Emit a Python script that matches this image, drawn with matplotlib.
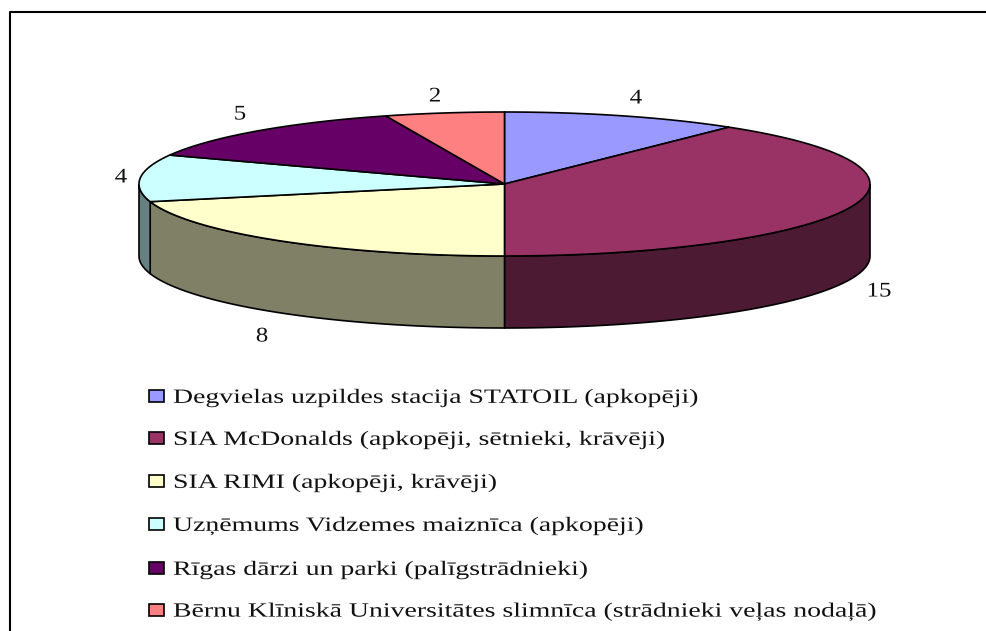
import numpy as np
import matplotlib
matplotlib.use('Agg')
import matplotlib.pyplot as plt
from matplotlib.patches import Polygon, Rectangle
from matplotlib.patheffects import AbstractPathEffect
from matplotlib.transforms import Affine2D

plt.rcParams['font.family'] = ['Liberation Serif', 'DejaVu Serif']

names = ['Degvielas uzpildes stacija STATOIL (apkopēji)',
         'SIA McDonalds (apkopēji, sētnieki, krāvēji)',
         'SIA RIMI (apkopēji, krāvēji)',
         'Uzņēmums Vidzemes maiznīca (apkopēji)',
         'Rīgas dārzi un parki (palīgstrādnieki)',
         'Bērnu Klīniskā Universitātes slimnīca (strādnieki veļas nodaļā)']
values = [4, 15, 8, 4, 5, 2]
top_colors = ['#9999FF', '#993366', '#FFFFCC', '#CCFFFF', '#660066', '#FF8080']
side_colors = ['#4D4D80', '#4D1A33', '#808066', '#668080', '#330033', '#804040']
label_pos = [(636, 99), (879, 292), (262, 337), (121, 178), (240, 115), (435, 97)]

cx, cy = 504.5, 184
rx, ry = 365.5, 72
depth = 72


# the source image is stretched sideways, text gets the same stretch
class StretchX(AbstractPathEffect):
    def __init__(self, x0, sx):
        super().__init__()
        self.x0 = x0
        self.sx = sx

    def draw_path(self, renderer, gc, tpath, affine, rgbFace=None):
        a = affine + Affine2D().translate(-self.x0, 0).scale(self.sx, 1).translate(self.x0, 0)
        renderer.draw_path(gc, tpath, a, rgbFace)


def rim(a0, a1):
    t = np.linspace(a0, a1, 200)
    return cx + rx * np.sin(t), cy - ry * np.cos(t)


fig = plt.figure(figsize=(9.87, 6.31), dpi=100)
ax = fig.add_axes([0, 0, 1, 1])
ax.set_xlim(0, 987)
ax.set_ylim(631, 0)
ax.axis('off')

# frame, only top and left are in the crop
ax.plot([9.5, 9.5, 987], [631, 12, 12], color='black', lw=1.5)

edges = np.cumsum([0] + values) / sum(values) * 2 * np.pi

# side walls of the front half
for i in range(len(values)):
    a0, a1 = edges[i], edges[i + 1]
    a0 = max(a0, np.pi / 2)
    a1 = min(a1, 3 * np.pi / 2)
    if a1 <= a0:
        continue
    x, y = rim(a0, a1)
    pts = np.column_stack([np.r_[x, x[::-1]], np.r_[y, y[::-1] + depth]])
    ax.add_patch(Polygon(pts, fc=side_colors[i], ec='black', lw=1.2))

# top slices
for i in range(len(values)):
    x, y = rim(edges[i], edges[i + 1])
    pts = np.column_stack([np.r_[cx, x], np.r_[cy, y]])
    ax.add_patch(Polygon(pts, fc=top_colors[i], ec='black', lw=1.2))

for v, (lx, ly) in zip(values, label_pos):
    ax.text(lx, ly, str(v), fontsize=15, ha='center', va='center', color='#111111',
            path_effects=[StretchX(lx, 1.2)])

# legend
leg_y = [396, 438, 481, 524, 568, 610]
for n, c, ly in zip(names, top_colors, leg_y):
    ax.add_patch(Rectangle((148.5, ly - 6), 15.5, 12, fc=c, ec='black', lw=1.2))
    ax.text(173, ly + 2, n, fontsize=14.6, ha='left', va='center', color='#111111',
            path_effects=[StretchX(173, 1.37)])

fig.savefig('out.png', dpi=100)
